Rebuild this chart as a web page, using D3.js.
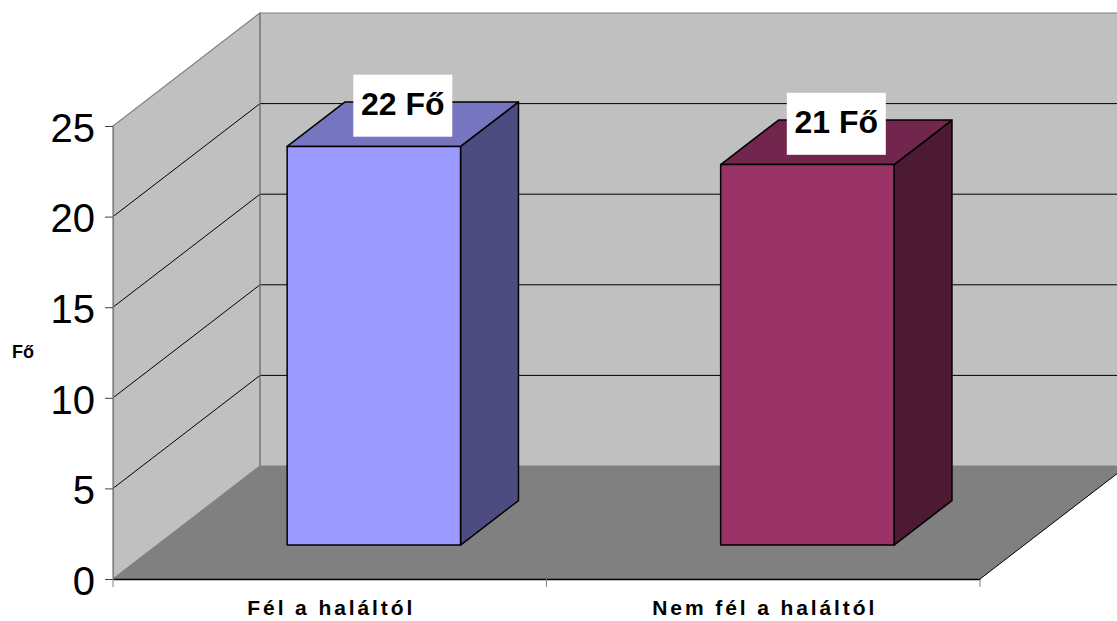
<!DOCTYPE html>
<html>
<head>
<meta charset="utf-8">
<script src="https://cdn.jsdelivr.net/npm/d3@7"></script>
<style>
  body { margin: 0; background: #fff; }
  svg { display: block; font-family: "Liberation Sans", Arial, sans-serif; }
</style>
</head>
<body>
<svg id="chart" width="1117" height="621"></svg>
<script>
// adatok
const categories = ["Fél a haláltól", "Nem fél a haláltól"];
const values = [22, 21];
const valueLabels = ["22 Fő", "21 Fő"];
const yTicks = [0, 5, 10, 15, 20, 25];
const barFront = ["#9999FF", "#993366"];
const barTop = ["#7575C0", "#73264D"];
const barSide = ["#4C4C80", "#4D1A33"];

const svg = d3.select("#chart");

// front plane
const x = d3.scaleBand().domain(categories).range([113, 980]).paddingInner(0).paddingOuter(0);
const y = d3.scaleLinear().domain([0, 25]).range([579, 126]);
// depth (0 = front, 1 = back wall)
const depth = { dx: 147, dy: -113 };
const zFront = 0.30, zBack = 0.694;

function P(px, v, z) {
    return [px + z * depth.dx, y(v) + z * depth.dy];
}
const poly = pts => pts.map(p => p.join(",")).join(" ");

const x0 = x.range()[0], x1 = x.range()[1];
const vMax = y.domain()[1];

// falak
svg.append("polygon")
    .attr("points", poly([P(x0, 0, 0), P(x0, vMax, 0), P(x0, vMax, 1), P(x0, 0, 1)]))
    .attr("fill", "#C0C0C0").attr("stroke", "#808080").attr("stroke-width", 1.2);
svg.append("polygon")
    .attr("points", poly([P(x0, 0, 1), P(x0, vMax, 1), P(x1, vMax, 1), P(x1, 0, 1)]))
    .attr("fill", "#C0C0C0").attr("stroke", "#808080").attr("stroke-width", 1.2);

// rácsvonalak
yTicks.filter(t => t > 0 && t < vMax).forEach(t => {
    svg.append("polyline")
        .attr("points", poly([P(x0, t, 0), P(x0, t, 1), P(x1, t, 1)]))
        .attr("fill", "none").attr("stroke", "#000").attr("stroke-width", 1);
});

// padló
svg.append("polygon")
    .attr("points", poly([P(x0, 0, 0), P(x1, 0, 0), P(x1, 0, 1), P(x0, 0, 1)]))
    .attr("fill", "#808080");
svg.append("line")
    .attr("x1", P(x1, 0, 0)[0]).attr("y1", P(x1, 0, 0)[1])
    .attr("x2", P(x1, 0, 1)[0]).attr("y2", P(x1, 0, 1)[1])
    .attr("stroke", "#000").attr("stroke-width", 1);
svg.append("line")
    .attr("x1", P(x0, 0, 1)[0]).attr("y1", P(x0, 0, 1)[1])
    .attr("x2", P(x0, vMax, 1)[0]).attr("y2", P(x0, vMax, 1)[1])
    .attr("stroke", "#808080").attr("stroke-width", 1.2);

// oszlopok
const bw = x.bandwidth() * 0.4;
categories.forEach((c, i) => {
    const cx = x(c) + x.bandwidth() / 2;
    const l = cx - bw / 2, r = cx + bw / 2, v = values[i];
    const g = svg.append("g").attr("stroke", "#000").attr("stroke-width", 1.5).attr("stroke-linejoin", "round");
    g.append("polygon").attr("fill", barSide[i])
        .attr("points", poly([P(r, 0, zFront), P(r, v, zFront), P(r, v, zBack), P(r, 0, zBack)]));
    g.append("polygon").attr("fill", barTop[i])
        .attr("points", poly([P(l, v, zFront), P(r, v, zFront), P(r, v, zBack), P(l, v, zBack)]));
    g.append("polygon").attr("fill", barFront[i])
        .attr("points", poly([P(l, 0, zFront), P(r, 0, zFront), P(r, v, zFront), P(l, v, zFront)]));

    // címke
    const mid = P(cx, v, (zFront + zBack) / 2);
    const lx = mid[0], ly = mid[1] - 18.5;
    svg.append("rect")
        .attr("x", lx - 49.5).attr("y", ly - 31).attr("width", 99).attr("height", 62)
        .attr("fill", "#fff");
    svg.append("text")
        .attr("x", lx).attr("y", ly + 9.5)
        .attr("text-anchor", "middle")
        .attr("font-size", 32).attr("font-weight", "bold")
        .text(valueLabels[i]);
});

// y tengely
const yAxis = svg.append("g")
    .attr("transform", `translate(${x0},0)`)
    .call(d3.axisLeft(y).tickValues(yTicks).tickSize(8).tickPadding(10).tickSizeOuter(0));
yAxis.select(".domain").attr("stroke", "#808080").attr("stroke-width", 1.2);
yAxis.selectAll(".tick line").attr("stroke", "#404040");
yAxis.selectAll(".tick text")
    .attr("font-size", 40).attr("font-family", "'Liberation Sans', Arial, sans-serif")
    .attr("fill", "#000").attr("dy", "0.38em");

// x tengely
const xAxis = svg.append("g")
    .attr("transform", `translate(0,${y(0)})`)
    .call(d3.axisBottom(x).tickSize(0).tickFormat(() => ""));
xAxis.select(".domain").attr("stroke", "#000").attr("stroke-width", 1.5);
const catTicks = [x0].concat(categories.map(c => x(c) + x.bandwidth()));
svg.selectAll(".cat-tick").data(catTicks).enter().append("line")
    .attr("x1", d => d).attr("x2", d => d)
    .attr("y1", y(0)).attr("y2", y(0) + 8)
    .attr("stroke", "#808080");

svg.selectAll(".cat-label").data(categories).enter().append("text")
    .attr("x", d => x(d) + x.bandwidth() / 2 + 1.5)
    .attr("y", 615)
    .attr("text-anchor", "middle")
    .attr("font-size", 21).attr("font-weight", "bold")
    .attr("letter-spacing", 2.9)
    .text(d => d);

// tengelycím
svg.append("text")
    .attr("x", 12).attr("y", 358)
    .attr("font-size", 18).attr("font-weight", "bold")
    .text("Fő");
</script>
</body>
</html>
